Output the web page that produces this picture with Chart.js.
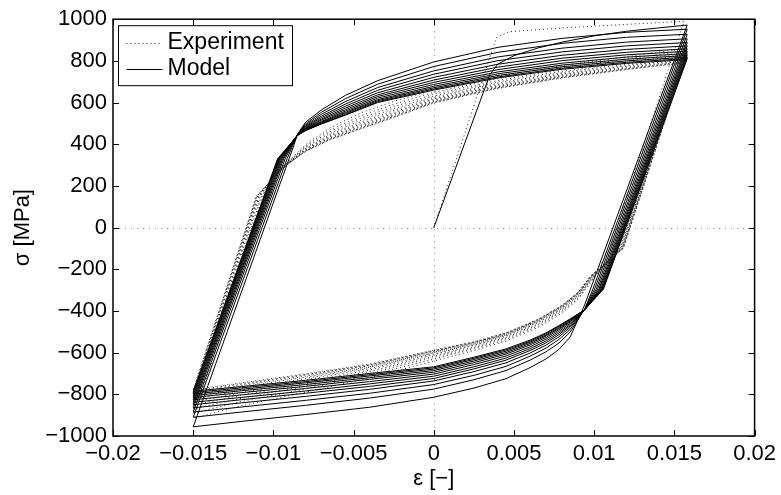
<!DOCTYPE html>
<html>
<head>
<meta charset="utf-8">
<script src="https://cdn.jsdelivr.net/npm/chart.js@4.4.1/dist/chart.umd.min.js"></script>
<style>
  html, body { margin: 0; padding: 0; background: #fff; }
  canvas { display: block; }
</style>
</head>
<body>
<canvas id="grafica" width="781" height="495"></canvas>
<script>
// ---- ticks ----
const xTicks = [-0.02, -0.015, -0.01, -0.005, 0, 0.005, 0.01, 0.015, 0.02];
const xTickLabels = ["\u22120.02", "\u22120.015", "\u22120.01", "\u22120.005", "0", "0.005", "0.01", "0.015", "0.02"];
const yTicks = [-1000, -800, -600, -400, -200, 0, 200, 400, 600, 800, 1000];
const yTickLabels = ["\u22121000", "\u2212800", "\u2212600", "\u2212400", "\u2212200", "0", "200", "400", "600", "800", "1000"];

// ---- model (solid) ----
// first loading, strain / stress pairs
const modelInit = [[0, 0], [0.0035, 735], [0.004, 785], [0.005, 825], [0.0065, 862], [0.008, 890], [0.010, 920], [0.012, 942], [0.014, 958], [0.0158, 972]];
// compressive branches: knee after elastic unloading, then stresses at lowStrain
const modelLowKnee = [null, [0.00992, -295], [0.01003, -295], [0.01013, -295], [0.01022, -295], [0.0103, -295], [0.01036, -295], [0.01042, -295], [0.01047, -295], [0.01051, -295], [0.01055, -295], [0.01058, -295]];
const lowStrain = [0.0094, 0.0085, 0.0078, 0.007, 0.006, 0.0045, 0.0025, 0, -0.004, -0.008, -0.012, -0.015];
const modelLow = [
  [-372, -525, -585, -630, -672, -725, -770, -814, -862, -897, -930, -956],
  [-392, -502, -554, -596, -636, -686, -730, -775, -818, -853, -885, -910],
  [-392, -489, -537, -578, -617, -666, -709, -753, -795, -829, -861, -885],
  [-393, -479, -524, -564, -602, -649, -691, -736, -776, -810, -841, -865],
  [-393, -471, -514, -553, -590, -636, -678, -724, -762, -795, -826, -850],
  [-394, -465, -506, -544, -581, -626, -668, -713, -750, -784, -815, -838],
  [-394, -459, -498, -535, -572, -616, -657, -703, -739, -772, -803, -826],
  [-394, -453, -490, -527, -563, -607, -648, -694, -728, -762, -792, -815],
  [-395, -449, -484, -520, -556, -600, -640, -686, -720, -753, -783, -806],
  [-395, -445, -479, -515, -550, -593, -633, -679, -712, -745, -776, -798],
  [-395, -441, -474, -509, -545, -587, -627, -673, -706, -739, -769, -791],
  [-395, -438, -470, -505, -540, -582, -622, -668, -700, -733, -763, -785]
];
// tensile branches
const modelUpKnee = [[-0.0087, 400], [-0.00915, 330], [-0.00927, 330], [-0.00936, 330], [-0.00943, 330], [-0.00949, 330], [-0.00955, 330], [-0.0096, 330], [-0.00964, 330], [-0.00968, 330], [-0.00971, 330], [-0.00974, 330]];
const upStrain = [-0.0085, -0.008, -0.007, -0.0055, -0.0035, 0, 0.004, 0.008, 0.012, 0.0158];
const modelUp = [
  [448, 505, 565, 635, 705, 795, 865, 908, 937, 952],
  [447, 498, 554, 619, 688, 773, 841, 884, 913, 928],
  [446, 492, 544, 605, 672, 752, 819, 861, 890, 906],
  [446, 487, 535, 593, 659, 736, 801, 843, 872, 888],
  [445, 483, 528, 583, 647, 721, 784, 827, 855, 872],
  [445, 479, 521, 574, 637, 708, 770, 813, 841, 858],
  [444, 476, 516, 566, 629, 697, 758, 801, 829, 846],
  [444, 473, 510, 559, 621, 687, 747, 789, 818, 835],
  [443, 470, 506, 553, 614, 678, 738, 780, 808, 826],
  [443, 468, 503, 548, 609, 671, 730, 772, 800, 818],
  [442, 466, 499, 543, 604, 665, 723, 765, 793, 811],
  [442, 465, 497, 540, 600, 660, 718, 760, 788, 806]
];

// ---- experiment (dotted) ----
const expInit = [[0, 0], [0.0039, 912], [0.0047, 940], [0.008, 958], [0.012, 975], [0.0156, 990]];
const expLowKnee = [[0.01098, -100], [0.01153, -100], [0.01159, -100], [0.01163, -100], [0.01167, -100], [0.0117, -100], [0.01173, -100], [0.01175, -100], [0.01177, -100], [0.01179, -100], [0.01181, -100], [0.01182, -100]];
const expLowStrain = [0.0098, 0.009, 0.008, 0.0065, 0.0045, 0.0025, 0, -0.004, -0.008, -0.012, -0.015];
const expLow = [
  [-262, -345, -410, -480, -545, -590, -640, -720, -790, -855, -915],
  [-256, -339, -403, -473, -538, -582, -631, -708, -774, -835, -890],
  [-251, -333, -397, -467, -532, -576, -623, -698, -761, -819, -870],
  [-247, -329, -392, -462, -527, -571, -616, -690, -750, -804, -852],
  [-244, -325, -388, -457, -522, -566, -610, -683, -740, -792, -837],
  [-241, -322, -385, -453, -518, -562, -605, -676, -731, -781, -823],
  [-238, -319, -382, -450, -515, -559, -601, -671, -724, -773, -812],
  [-236, -316, -379, -447, -512, -556, -597, -667, -718, -765, -803],
  [-234, -314, -377, -445, -510, -553, -594, -663, -713, -758, -794],
  [-232, -312, -375, -443, -508, -551, -592, -660, -708, -753, -788],
  [-231, -311, -373, -441, -506, -549, -590, -657, -705, -748, -782],
  [-230, -310, -372, -440, -505, -548, -588, -655, -702, -745, -778]
];
const expUpKnee = [[-0.01049, 150], [-0.01059, 150], [-0.01068, 150], [-0.01075, 150], [-0.01082, 150], [-0.01088, 150], [-0.01092, 150], [-0.01096, 150], [-0.011, 150], [-0.01103, 150], [-0.01105, 150], [-0.01107, 150]];
const expUpStrain = [-0.0098, -0.009, -0.008, -0.0065, -0.0045, -0.0025, 0, 0.004, 0.008, 0.012, 0.0156];
const expUp = [
  [268, 322, 398, 478, 552, 606, 660, 725, 778, 820, 860],
  [266, 320, 392, 468, 538, 592, 649, 715, 767, 809, 847],
  [264, 318, 387, 459, 527, 580, 640, 706, 758, 800, 837],
  [263, 316, 383, 451, 517, 570, 631, 699, 750, 791, 828],
  [261, 315, 379, 445, 508, 562, 625, 693, 744, 785, 820],
  [260, 314, 376, 439, 500, 554, 618, 687, 738, 778, 813],
  [259, 313, 373, 435, 494, 548, 614, 682, 733, 774, 808],
  [258, 312, 371, 430, 489, 542, 609, 678, 729, 769, 803],
  [257, 311, 369, 427, 484, 537, 605, 675, 725, 765, 798],
  [256, 311, 367, 424, 480, 533, 602, 672, 722, 762, 795],
  [255, 310, 366, 422, 477, 530, 600, 670, 720, 760, 792],
  [255, 310, 365, 420, 475, 528, 598, 668, 718, 758, 790]
];

const FONT = '"Liberation Sans", Arial, Helvetica, sans-serif';
Chart.defaults.font.family = FONT;
Chart.defaults.color = "#000";

// joins first loading and all half cycles into one path
function armarCamino(init, lowKnee, lowX, low, upKnee, upX, up) {
  const pts = init.map(p => ({ x: p[0], y: p[1] }));
  low.forEach((fila, k) => {
    if (lowKnee[k]) pts.push({ x: lowKnee[k][0], y: lowKnee[k][1] });
    fila.forEach((s, i) => pts.push({ x: lowX[i], y: s }));
    pts.push({ x: upKnee[k][0], y: upKnee[k][1] });
    up[k].forEach((s, i) => pts.push({ x: upX[i], y: s }));
  });
  return pts;
}

const marco = {
  id: "marco",
  beforeDatasetsDraw(chart) {
    const { ctx, chartArea: a, scales: { x, y } } = chart;
    ctx.save();
    ctx.strokeStyle = "#8a8a8a";
    ctx.lineWidth = 1;
    ctx.setLineDash([1, 5]);
    const x0 = Math.round(x.getPixelForValue(0)) + 0.5;
    const y0 = Math.round(y.getPixelForValue(0)) + 0.5;
    ctx.beginPath();
    ctx.moveTo(x0, a.top); ctx.lineTo(x0, a.bottom);
    ctx.moveTo(a.left, y0); ctx.lineTo(a.right, y0);
    ctx.stroke();
    ctx.restore();
  },
  afterDraw(chart) {
    const { ctx, chartArea: a, scales: { x, y } } = chart;
    ctx.save();
    ctx.strokeStyle = "#000";
    ctx.lineWidth = 1;
    ctx.beginPath();
    xTicks.forEach(v => {
      const px = Math.round(x.getPixelForValue(v)) + 0.5;
      ctx.moveTo(px, a.bottom); ctx.lineTo(px, a.bottom - 6);
      ctx.moveTo(px, a.top); ctx.lineTo(px, a.top + 6);
    });
    yTicks.forEach(v => {
      const py = Math.round(y.getPixelForValue(v)) + 0.5;
      ctx.moveTo(a.left, py); ctx.lineTo(a.left + 6, py);
      ctx.moveTo(a.right, py); ctx.lineTo(a.right - 6, py);
    });
    ctx.stroke();
    ctx.lineWidth = 1.5;
    ctx.strokeRect(a.left, a.top, a.right - a.left, a.bottom - a.top);

    // legend
    const lx = a.left + 5.5, ly = a.top + 6.5, lw = 174, lh = 60;
    ctx.fillStyle = "#fff";
    ctx.fillRect(lx, ly, lw, lh);
    ctx.lineWidth = 1;
    ctx.strokeRect(lx, ly, lw, lh);
    ctx.font = "23px " + FONT;
    ctx.textBaseline = "middle";
    ctx.fillStyle = "#000";
    chart.data.datasets.forEach((ds, i) => {
      const yy = ly + 17 + i * 26;
      ctx.strokeStyle = ds.borderColor;
      ctx.setLineDash(ds.borderDash || []);
      ctx.beginPath();
      ctx.moveTo(lx + 8, Math.round(yy) + 0.5);
      ctx.lineTo(lx + 44, Math.round(yy) + 0.5);
      ctx.stroke();
      ctx.fillText(ds.label, lx + 49, yy);
    });
    ctx.restore();
  }
};

function ejeOculto(pos, tam) {
  return {
    type: "linear",
    axis: pos === "top" ? "x" : "y",
    position: pos,
    min: pos === "top" ? -0.02 : -1000,
    max: pos === "top" ? 0.02 : 1000,
    ticks: { display: false },
    grid: { display: false, drawTicks: false },
    border: { display: false },
    afterFit: s => { if (pos === "top") s.height = tam; else s.width = tam; }
  };
}

new Chart(document.getElementById("grafica"), {
  type: "scatter",
  data: {
    datasets: [
      {
        label: "Experiment",
        data: armarCamino(expInit, expLowKnee, expLowStrain, expLow, expUpKnee, expUpStrain, expUp),
        showLine: true,
        borderColor: "#222",
        borderWidth: 1,
        borderDash: [1, 3],
        pointRadius: 0,
        tension: 0
      },
      {
        label: "Model",
        data: armarCamino(modelInit, modelLowKnee, lowStrain, modelLow, modelUpKnee, upStrain, modelUp),
        showLine: true,
        borderColor: "#000",
        borderWidth: 1,
        pointRadius: 0,
        tension: 0
      }
    ]
  },
  options: {
    responsive: false,
    animation: false,
    devicePixelRatio: 1,
    layout: { padding: 0 },
    plugins: { legend: { display: false }, tooltip: { enabled: false } },
    scales: {
      x: {
        type: "linear",
        position: "bottom",
        min: -0.02,
        max: 0.02,
        afterBuildTicks: s => { s.ticks = xTicks.map(v => ({ value: v })); },
        ticks: { callback: (v, i) => xTickLabels[i], font: { size: 22 }, padding: 5, maxRotation: 0, autoSkip: false },
        grid: { display: false, drawTicks: false },
        border: { display: false },
        title: { display: true, text: "\u03b5 [\u2212]", font: { size: 22 }, padding: { top: 0, bottom: 3 } },
        afterFit: s => { s.height = 59; }
      },
      y: {
        type: "linear",
        position: "left",
        min: -1000,
        max: 1000,
        afterBuildTicks: s => { s.ticks = yTicks.map(v => ({ value: v })); },
        ticks: { callback: (v, i) => yTickLabels[i], font: { size: 22 }, padding: 6, autoSkip: false },
        grid: { display: false, drawTicks: false },
        border: { display: false },
        title: { display: true, text: "\u03c3 [MPa]", font: { size: 22 }, padding: { top: 10, bottom: 0 } },
        afterFit: s => { s.width = 113; }
      },
      x2: ejeOculto("top", 13),
      y2: ejeOculto("right", 24)
    }
  },
  plugins: [marco]
});
</script>
</body>
</html>
